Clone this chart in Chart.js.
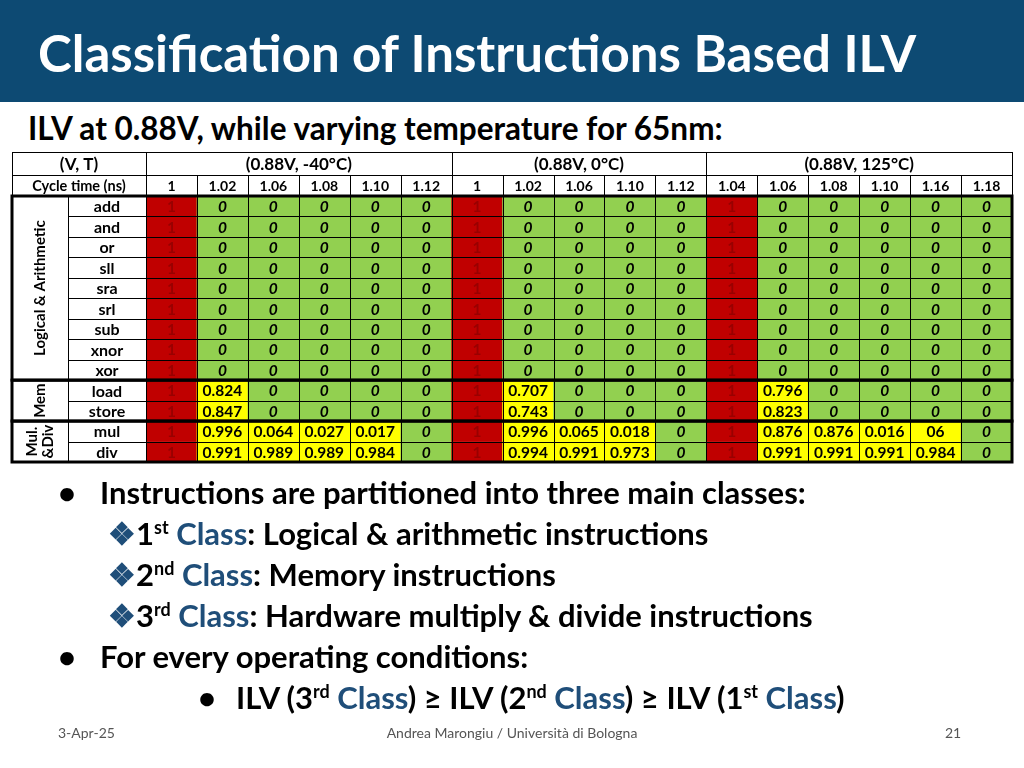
<!DOCTYPE html>
<html><head><meta charset="utf-8">
<script src="https://cdn.jsdelivr.net/npm/chart.js@4"></script>
<style>
body{margin:0;width:1024px;height:768px;overflow:hidden;background:#fff;font-family:Lato,"Open Sans",sans-serif;position:relative}
#bar{position:absolute;left:0;top:0;width:1024px;height:102px;background:#0d4a73}
#title{position:absolute;left:38px;top:22px;color:#fff;font-weight:bold;font-size:51px;white-space:nowrap}
#sub{position:absolute;left:28px;top:109px;font-weight:bold;font-size:31.5px;white-space:nowrap}
canvas{position:absolute;left:0;top:0}
.l{position:absolute;font-weight:bold;font-size:31px;white-space:nowrap;line-height:34px}
.l i{display:inline-block;width:42px;font-style:normal}
.b{color:#1f4e79}
sup{font-size:18px;line-height:0}
.f{position:absolute;top:724px;font-size:14px;color:#555}
</style></head><body>
<div id="bar"></div><div id="title">Classification of Instructions Based ILV</div>
<div id="sub">ILV at 0.88V, while varying temperature for 65nm:</div>
<canvas id="c" width="1024" height="768"></canvas>
<div class="l" style="left:58px;top:475px"><i>•</i>Instructions are partitioned into three main classes:</div>
<div class="l" style="left:108px;top:516px"><span class="b">❖</span>1<sup>st</sup> <span class="b">Class</span>: Logical &amp; arithmetic instructions</div>
<div class="l" style="left:108px;top:557px"><span class="b">❖</span>2<sup>nd</sup> <span class="b">Class</span>: Memory instructions</div>
<div class="l" style="left:108px;top:598px"><span class="b">❖</span>3<sup>rd</sup> <span class="b">Class</span>: Hardware multiply &amp; divide instructions</div>
<div class="l" style="left:58px;top:639px"><i>•</i>For every operating conditions:</div>
<div class="l" style="left:198px;top:680px"><i style="width:38px">•</i>ILV (3<sup>rd</sup> <span class="b">Class</span>) ≥ ILV (2<sup>nd</sup> <span class="b">Class</span>) ≥ ILV (1<sup>st</sup> <span class="b">Class</span>)</div>
<div class="f" style="left:58px">3-Apr-25</div>
<div class="f" style="left:0;width:1024px;text-align:center">Andrea Marongiu / Università di Bologna</div>
<div class="f" style="left:945px">21</div>
<script>
const cycleTimes=['1','1.02','1.06','1.08','1.10','1.12','1','1.02','1.06','1.10','1.12','1.04','1.06','1.08','1.10','1.16','1.18'];
const conditions=['(0.88V, -40°C)','(0.88V, 0°C)','(0.88V, 125°C)'];
const conditionSpans=[6,5,6];
const instructions=['add','and','or','sll','sra','srl','sub','xnor','xor','load','store','mul','div'];
const groups=[{name:'Logical & Arithmetic',rows:9},{name:'Mem',rows:2},{name:'Mul.\n&Div',rows:2}];
const zeroRow=['1','0','0','0','0','0','1','0','0','0','0','1','0','0','0','0','0'];
const rowAdd=zeroRow,rowAnd=zeroRow,rowOr=zeroRow,rowSll=zeroRow,rowSra=zeroRow,rowSrl=zeroRow,rowSub=zeroRow,rowXnor=zeroRow,rowXor=zeroRow;
const rowLoad=['1','0.824','0','0','0','0','1','0.707','0','0','0','1','0.796','0','0','0','0'];
const rowStore=['1','0.847','0','0','0','0','1','0.743','0','0','0','1','0.823','0','0','0','0'];
const rowMul=['1','0.996','0.064','0.027','0.017','0','1','0.996','0.065','0.018','0','1','0.876','0.876','0.016','06','0'];
const rowDiv=['1','0.991','0.989','0.989','0.984','0','1','0.994','0.991','0.973','0','1','0.991','0.991','0.991','0.984','0'];
const rows=[rowAdd,rowAnd,rowOr,rowSll,rowSra,rowSrl,rowSub,rowXnor,rowXor,rowLoad,rowStore,rowMul,rowDiv];
const col=v=>v==='1'?'#c00000':(v==='0'?'#92d050':'#ffff00');
const datasets=rows.map((r,i)=>({label:instructions[i],data:r.map(()=>[i,i+1]),vals:r,
  backgroundColor:r.map(col),borderWidth:0,barPercentage:1,categoryPercentage:1,grouped:false}));
const F='Lato,"Open Sans",sans-serif';
const plug={id:'tbl',afterDatasetsDraw(ch){
  const c=ch.ctx,a=ch.chartArea,xs=ch.scales.x,ys=ch.scales.y;
  const cw=(a.right-a.left)/cycleTimes.length;
  const L=12,N=68,H1=152,H2=175;
  c.save();c.textAlign='center';c.textBaseline='middle';
  rows.forEach((r,i)=>r.forEach((v,j)=>{
    const x=xs.getPixelForValue(j),y=(ys.getPixelForValue(i)+ys.getPixelForValue(i+1))/2;
    c.fillStyle=v==='1'?'#990000':'#000';
    c.font=(v==='0'?'italic bold ':'bold ')+'15.5px '+F;
    c.fillText(v,x,y+1);
  }));
  c.strokeStyle='#000';c.lineWidth=1;c.beginPath();
  for(let i=0;i<=rows.length;i++){const y=Math.round(ys.getPixelForValue(i))+.5;c.moveTo(N,y);c.lineTo(a.right,y);}
  for(let j=0;j<=cycleTimes.length;j++){const x=Math.round(a.left+j*cw)+.5;c.moveTo(x,H2);c.lineTo(x,a.bottom);}
  c.moveTo(L,H1+.5);c.lineTo(a.right,H1+.5);c.moveTo(L,H2+.5);c.lineTo(a.right,H2+.5);
  c.moveTo(L+.5,H1);c.lineTo(L+.5,a.top);c.moveTo(a.right+.5,H1);c.lineTo(a.right+.5,a.top);
  c.moveTo(a.left+.5,H1);c.lineTo(a.left+.5,H2);
  let k=0;conditionSpans.forEach(s=>{k+=s;const x=Math.round(a.left+k*cw)+.5;c.moveTo(x,H1);c.lineTo(x,H2);});
  c.stroke();
  c.fillStyle='#000';c.font='bold 17px '+F;
  c.fillText('(V, T)',(L+a.left)/2,(H1+H2)/2+1);
  k=0;conditionSpans.forEach((s,i)=>{c.fillText(conditions[i],a.left+(k+s/2)*cw,(H1+H2)/2+1);k+=s;});
  c.font='bold 14.5px '+F;
  c.fillText('Cycle time (ns)',(L+a.left)/2,(H2+a.top)/2+1);
  c.font='bold 14px '+F;
  cycleTimes.forEach((t,j)=>c.fillText(t,xs.getPixelForValue(j),(H2+a.top)/2+1));
  c.font='bold 16px '+F;
  instructions.forEach((n,i)=>c.fillText(n,(N+a.left)/2,(ys.getPixelForValue(i)+ys.getPixelForValue(i+1))/2+1));
  let r0=0;c.lineWidth=3;
  groups.forEach(g=>{
    const y0=ys.getPixelForValue(r0),y1=ys.getPixelForValue(r0+g.rows);
    c.strokeRect(L,y0,a.right-L,y1-y0);
    c.save();c.translate((L+N)/2,(y0+y1)/2);c.rotate(-Math.PI/2);c.font='bold 15px '+F;
    const ls=g.name.split('\n');ls.forEach((s,q)=>c.fillText(s,0,(q-(ls.length-1)/2)*16));
    c.restore();r0+=g.rows;
  });
  c.lineWidth=1;c.beginPath();c.moveTo(N+.5,a.top);c.lineTo(N+.5,a.bottom);c.stroke();
  c.restore();
}};
new Chart(document.getElementById('c'),{type:'bar',data:{labels:cycleTimes.map((t,i)=>i),datasets},
 options:{responsive:false,animation:false,devicePixelRatio:1,
  layout:{padding:{left:146,right:12,top:196,bottom:306}},
  plugins:{legend:{display:false},tooltip:{enabled:false}},
  scales:{x:{display:false,type:'category'},y:{display:false,min:0,max:rows.length,reverse:true}}},
 plugins:[plug]});
</script></body></html>
